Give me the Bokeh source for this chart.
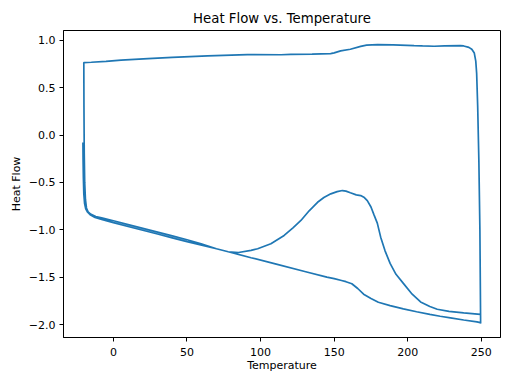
from bokeh.plotting import figure
from bokeh.models import FixedTicker, Range1d, CustomJSTickFormatter
from bokeh.embed import file_html
from bokeh.resources import INLINE

# --- data (temperature, heat flow), in recording order ---
first_heating_T = [-20.7, -20.6, -20.4, -20.1, -19.6, -18.8, -17.5, -15.5, -12.5, -8, 0, 10, 20, 30,
                   40, 50, 60, 70, 80, 93.5, 110, 130, 145, 150, 155, 158, 162, 166, 170, 175,
                   180, 188, 197, 206, 215, 222, 229, 238, 247, 249.3]
first_heating_HF = [-0.08, -0.25, -0.45, -0.62, -0.72, -0.78, -0.815, -0.845, -0.87, -0.89, -0.925,
                    -0.965, -1.005, -1.045, -1.085, -1.125, -1.163, -1.2, -1.24, -1.295, -1.36,
                    -1.44, -1.5, -1.515, -1.535, -1.548, -1.57, -1.62, -1.68, -1.725, -1.765,
                    -1.80, -1.835, -1.865, -1.893, -1.913, -1.93, -1.952, -1.972, -1.98]

cooling_T = [249.5, 249.0, 248.3, 247.5, 246.8, 246.2, 245.2, 243.5, 241.5, 238, 235.8, 225, 217.9,
             210, 204.3, 190, 179.5, 172, 168, 161, 154.4, 150, 147.6, 135, 120.5, 113.9, 91, 64,
             40, 23.5, 5.2, -5, -15, -20.1]
cooling_HF = [-1.99, -1.0, -0.27, 0.3, 0.65, 0.78, 0.865, 0.905, 0.925, 0.94, 0.943, 0.94, 0.937,
              0.94, 0.943, 0.952, 0.954, 0.948, 0.935, 0.905, 0.888, 0.867, 0.859, 0.853, 0.85,
              0.847, 0.849, 0.835, 0.82, 0.806, 0.79, 0.778, 0.768, 0.764]

second_heating_T = [-20.0, -19.8, -19.5, -19.0, -18.3, -17.2, -15.5, -12, -8, 0, 10, 20, 30, 40, 50,
                    59.6, 70, 78, 85, 93.5, 98, 107, 116, 122, 127.4, 133, 138.7, 143, 147.7, 152,
                    155.6, 158, 161, 165, 168, 170.5, 172.5, 175, 177, 179.3, 181.6, 184.5, 188,
                    192, 197, 203, 208.7, 215, 220, 228, 238, 249.3]
second_heating_HF = [0.3, -0.2, -0.5, -0.68, -0.77, -0.81, -0.835, -0.86, -0.875, -0.905, -0.945,
                     -0.985, -1.025, -1.065, -1.105, -1.148, -1.2, -1.232, -1.24, -1.218, -1.2,
                     -1.148, -1.06, -0.98, -0.902, -0.80, -0.71, -0.66, -0.621, -0.597, -0.586,
                     -0.592, -0.61, -0.632, -0.639, -0.66, -0.692, -0.76, -0.84, -0.93, -1.078,
                     -1.22, -1.355, -1.47, -1.566, -1.68, -1.762, -1.81, -1.839, -1.862, -1.878,
                     -1.892]

x_ticks = [0, 50, 100, 150, 200, 250]
y_ticks = [-2.0, -1.5, -1.0, -0.5, 0.0, 0.5, 1.0]

temperature = first_heating_T + cooling_T + second_heating_T
heat_flow = first_heating_HF + cooling_HF + second_heating_HF

font = "DejaVu Sans"

p = figure(width=504, height=376, output_backend="svg", toolbar_location=None,
           x_range=Range1d(-33.9, 263.0), y_range=Range1d(-2.137, 1.103),
           title="Heat Flow vs. Temperature",
           min_border_left=63, min_border_right=4, min_border_top=30, min_border_bottom=39)

p.line(temperature, heat_flow, line_color="#1f77b4", line_width=1.7)

p.title.align = "center"
p.title.text_font = font
p.title.text_font_size = "13.3px"
p.title.text_font_style = "normal"
p.title.text_color = "black"

p.xgrid.visible = False
p.ygrid.visible = False
p.outline_line_color = "black"
p.outline_line_alpha = 1.0
p.outline_line_width = 1

p.xaxis.ticker = FixedTicker(ticks=x_ticks)
p.yaxis.ticker = FixedTicker(ticks=y_ticks)
p.yaxis.formatter = CustomJSTickFormatter(code="return tick.toFixed(1).replace('-', '\u2212');")
p.xaxis.formatter = CustomJSTickFormatter(code="return tick.toFixed(0).replace('-', '\u2212');")
p.xaxis.axis_label = "Temperature"
p.yaxis.axis_label = "Heat Flow"

for ax in (p.xaxis, p.yaxis):
    ax.axis_line_color = "black"
    ax.major_tick_line_color = "black"
    ax.minor_tick_line_color = None
    ax.major_tick_in = 0
    ax.major_tick_out = 4
    ax.major_label_standoff = 4
    ax.major_label_text_font = font
    ax.major_label_text_font_size = "11px"
    ax.major_label_text_color = "black"
    ax.axis_label_text_font = font
    ax.axis_label_text_font_size = "11px"
    ax.axis_label_text_font_style = "normal"
    ax.axis_label_text_color = "black"
    ax.axis_label_standoff = 3

p.xaxis.major_label_standoff = 6
p.xaxis.axis_label_standoff = 0

open("out.html", "w").write(file_html(p, INLINE))
